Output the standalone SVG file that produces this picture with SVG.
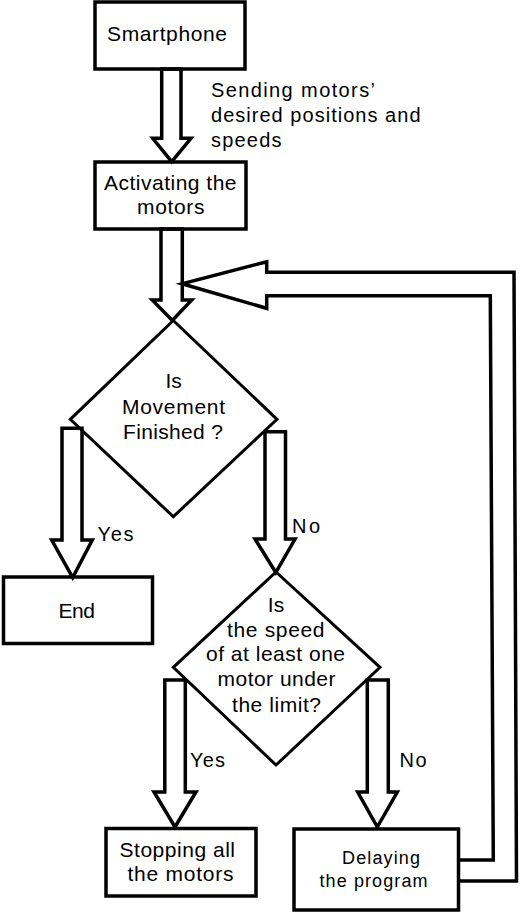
<svg xmlns="http://www.w3.org/2000/svg" width="520" height="912" viewBox="0 0 520 912">
<style>
.box{fill:none;stroke:#000;stroke-width:3.5}
.dia{fill:none;stroke:#000;stroke-width:3}
.arr{fill:none;stroke:#000;stroke-width:3.5;stroke-linejoin:miter}
text{font-family:"Liberation Sans",Arial,sans-serif;font-size:21px;fill:#000}
.lbl{font-size:20px}
.sm{font-size:18px}
</style>
<rect width="520" height="912" fill="#fff"/>
<g id="connectors">
<polygon class="arr" points="161.7,69 181,69 181,138.3 191,138.3 171.7,161.7 152.7,138.3 161.7,138.3"/>
<polygon class="arr" points="161,229 182.3,229 182.3,300 191.7,300 172.3,320.5 152.3,300 161,300"/>
<polygon class="arr" points="62,428.3 82,428.3 82,540 92.3,540 72.7,577.5 51.7,540 62,540"/>
<polygon class="arr" points="265,431.7 285.5,431.7 285.5,539 295,539 275.8,572.5 255,539 265,539"/>
<polygon class="arr" points="164.8,680 185.3,680 185.3,792 196,792 175,827 154,792 164.8,792"/>
<polygon class="arr" points="367.3,680 388.3,680 388.3,792 397.3,792 377.3,827 357.7,792 367.3,792"/>
<polyline class="arr" points="458,881 516.5,881 514,272.3 266.7,272.3 266.7,261.7 182,283.8 266.7,308.3 266.7,295.8 490.3,295.8 493.3,860 458,860"/>
<text class="lbl" x="211" y="96.5" textLength="164" lengthAdjust="spacing">Sending motors’</text>
<text class="lbl" x="211" y="121.5" textLength="209.5" lengthAdjust="spacing">desired positions and</text>
<text class="lbl" x="211" y="146.5" textLength="70.5" lengthAdjust="spacing">speeds</text>
<text class="lbl" x="97.5" y="541" textLength="36" lengthAdjust="spacing">Yes</text>
<text class="lbl" x="292" y="533.3" textLength="28" lengthAdjust="spacing">No</text>
<text class="lbl" x="190" y="766.7" textLength="35" lengthAdjust="spacing">Yes</text>
<text class="lbl" x="399.5" y="766.7" textLength="27" lengthAdjust="spacing">No</text>
</g>
<g id="smartphone">
<rect class="box" x="95" y="2" width="150" height="67"/>
<text x="107" y="40.5" textLength="120" lengthAdjust="spacing">Smartphone</text>
</g>
<g id="activating">
<rect class="box" x="95" y="162" width="151" height="67"/>
<text x="104" y="190" textLength="132.5" lengthAdjust="spacing">Activating the</text>
<text x="137" y="214" textLength="67.5" lengthAdjust="spacing">motors</text>
</g>
<g id="finished">
<polygon class="dia" points="173.3,320.5 277,419.3 173.3,516.7 70.3,419.3"/>
<text x="173.7" y="388.3" text-anchor="middle">Is</text>
<text x="122" y="414" textLength="103" lengthAdjust="spacing">Movement</text>
<text x="123" y="439.3" textLength="100" lengthAdjust="spacing">Finished ?</text>
</g>
<g id="end">
<rect class="box" x="3.5" y="577" width="149" height="66.5"/>
<text x="58.5" y="618.3" textLength="36.5" lengthAdjust="spacing">End</text>
</g>
<g id="speed">
<polygon class="dia" points="276,572 380,667.3 276,765 173.3,667.3"/>
<text x="276" y="612.3" text-anchor="middle">Is</text>
<text x="227" y="636.7" textLength="97.5" lengthAdjust="spacing">the speed</text>
<text x="206" y="660.7" textLength="139" lengthAdjust="spacing">of at least one</text>
<text x="217.5" y="686" textLength="118" lengthAdjust="spacing">motor under</text>
<text x="232" y="711.5" textLength="89" lengthAdjust="spacing">the limit?</text>
</g>
<g id="stopping">
<rect class="box" x="106" y="828.5" width="150" height="67.5"/>
<text x="119.5" y="857" textLength="115.5" lengthAdjust="spacing">Stopping all</text>
<text x="127.5" y="880.7" textLength="106" lengthAdjust="spacing">the motors</text>
</g>
<g id="delaying">
<rect class="box" x="294" y="829" width="164.5" height="81"/>
<text class="sm" x="342" y="864" textLength="78" lengthAdjust="spacing">Delaying</text>
<text class="sm" x="319.5" y="886.7" textLength="108" lengthAdjust="spacing">the program</text>
</g>
</svg>
